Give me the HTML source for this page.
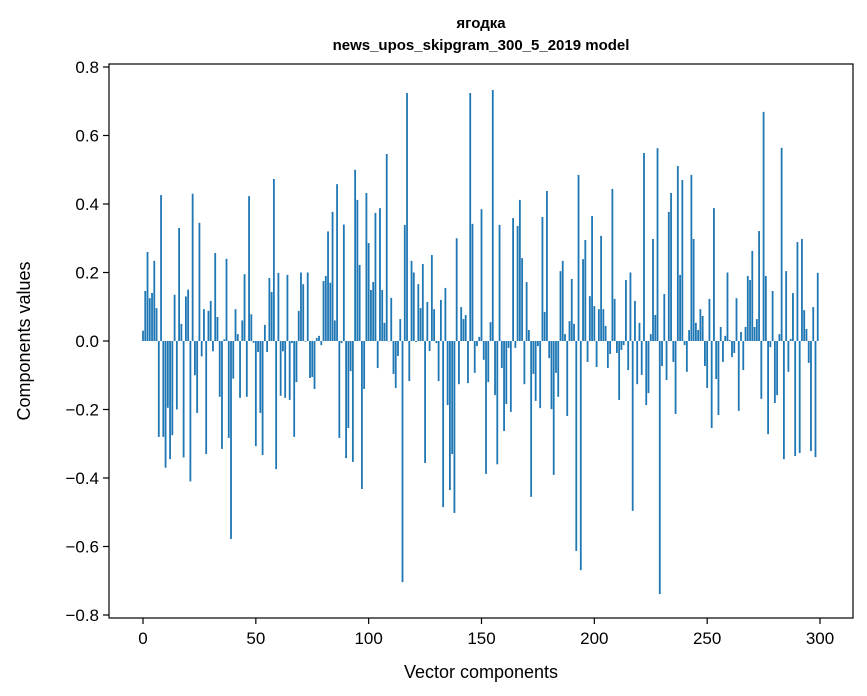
<!DOCTYPE html>
<html><head><meta charset="utf-8"><style>
body{margin:0;background:#fff;}
svg{display:block;font-family:"Liberation Sans","DejaVu Sans",sans-serif;}
</style></head><body>
<svg id="chart" width="867" height="696" viewBox="0 0 867 696" xmlns="http://www.w3.org/2000/svg">
<rect width="867" height="696" fill="#fff"/>
<text x="481" y="28" text-anchor="middle" font-size="15" font-weight="bold">ягодка</text>
<text x="481" y="50" text-anchor="middle" font-size="15" font-weight="bold">news_upos_skipgram_300_5_2019 model</text>
<g id="bars"></g>
<g id="axes"></g>
<text x="481" y="678" text-anchor="middle" font-size="18">Vector components</text>
<text transform="translate(30,341) rotate(-90)" text-anchor="middle" font-size="18">Components values</text>
</svg>
<script>
const componentValues = [
0.03,0.146,0.26,0.125,0.14,0.234,0.096,-0.28,0.426,-0.28,
-0.37,-0.195,-0.345,-0.275,0.135,-0.2,0.33,0.05,-0.34,0.13,
0.15,-0.41,0.43,-0.1,-0.21,0.345,-0.045,0.093,-0.33,0.088,
0.117,-0.03,0.257,0.07,-0.163,-0.315,0.005,0.24,-0.283,-0.578,
-0.11,0.093,0.02,-0.166,0.06,0.195,-0.163,0.423,0.078,-0.005,
-0.307,-0.032,-0.21,-0.333,0.047,-0.032,0.184,0.143,0.473,-0.374,
0.199,-0.16,-0.03,-0.166,0.193,-0.172,-0.006,-0.28,-0.12,0.088,
0.2,0.166,-0.002,0.2,-0.108,-0.105,-0.14,0.009,0.015,-0.012,
0.175,0.19,0.32,0.17,0.377,0.06,0.458,-0.283,-0.006,0.34,
-0.342,-0.254,-0.088,-0.353,0.5,0.412,0.222,-0.432,-0.14,0.432,
0.286,0.149,0.172,0.374,-0.079,0.388,0.149,0.053,0.546,0.0,
0.126,-0.096,-0.137,-0.044,0.064,-0.704,0.339,0.724,-0.117,0.234,
0.2,-0.003,0.166,0.096,0.225,-0.356,0.114,-0.029,0.251,0.093,
-0.006,-0.117,0.12,-0.485,0.155,-0.187,-0.435,-0.33,-0.502,0.3,
-0.126,0.099,0.064,0.076,-0.123,0.724,0.342,-0.093,-0.015,0.012,
0.385,-0.055,-0.388,-0.12,0.055,0.733,-0.158,-0.36,0.339,-0.079,
-0.263,-0.184,-0.02,-0.207,0.359,-0.02,0.336,0.412,0.242,-0.126,
0.172,0.032,-0.455,-0.096,-0.175,-0.015,-0.196,0.362,0.085,0.438,
-0.05,-0.199,-0.391,-0.093,-0.163,0.204,0.234,0.02,-0.219,0.058,
0.181,0.05,-0.613,0.485,-0.669,0.239,0.295,-0.061,0.131,0.365,
0.102,-0.076,0.093,0.307,0.093,0.044,-0.079,-0.038,0.444,0.123,
-0.035,-0.172,-0.026,-0.012,0.178,-0.085,0.2,-0.496,0.117,-0.126,
0.053,-0.099,0.549,-0.187,-0.152,0.02,0.298,0.076,0.563,-0.739,
-0.073,0.137,-0.114,0.377,0.432,-0.061,-0.213,0.511,0.193,0.47,
-0.012,-0.09,0.032,0.485,0.298,0.053,0.032,0.093,0.073,-0.073,
-0.137,0.123,-0.254,0.388,-0.111,-0.216,0.041,-0.061,0.015,0.2,
0.003,-0.047,-0.035,0.125,-0.204,0.026,-0.085,0.041,0.19,0.178,
0.263,0.041,0.064,0.321,-0.169,0.669,0.19,-0.272,-0.018,0.146,
-0.181,-0.158,0.02,0.564,-0.345,0.204,-0.09,0.006,0.14,-0.336,
0.289,-0.327,0.298,0.09,0.035,-0.064,-0.321,0.099,-0.339,0.199
];
const xTicks = [0,50,100,150,200,250,300];
const yTicks = [-0.8,-0.6,-0.4,-0.2,0.0,0.2,0.4,0.6,0.8];
const yTickLabels = ["\u22120.8","\u22120.6","\u22120.4","\u22120.2","0.0","0.2","0.4","0.6","0.8"];

const NS = "http://www.w3.org/2000/svg";
const plot = {left:109, right:853, top:64, bottom:618};
function xScale(i){ return 143 + (820-143) * i / 300; }
function yScale(v){ return 341 - v * 342.5; }
const barW = 0.8 * (xScale(1) - xScale(0));

const barsG = document.getElementById('bars');
componentValues.forEach((v, i) => {
  const r = document.createElementNS(NS, 'rect');
  const y0 = yScale(0), y1 = yScale(v);
  r.setAttribute('x', xScale(i) - barW/2);
  r.setAttribute('y', Math.min(y0, y1));
  r.setAttribute('width', barW);
  r.setAttribute('height', Math.max(Math.abs(y1 - y0), 0.3));
  r.setAttribute('fill', '#1f77b4');
  
  
  barsG.appendChild(r);
});

const axesG = document.getElementById('axes');
const frame = document.createElementNS(NS, 'rect');
frame.setAttribute('x', plot.left); frame.setAttribute('y', plot.top);
frame.setAttribute('width', plot.right - plot.left); frame.setAttribute('height', plot.bottom - plot.top);
frame.setAttribute('fill', 'none'); frame.setAttribute('stroke', '#000'); frame.setAttribute('stroke-width', '1.2');


axesG.appendChild(frame);

xTicks.forEach(t => {
  const x = xScale(t);
  const l = document.createElementNS(NS, 'line');
  l.setAttribute('x1', x); l.setAttribute('x2', x);
  l.setAttribute('y1', plot.bottom); l.setAttribute('y2', plot.bottom + 6);
  l.setAttribute('stroke', '#000'); l.setAttribute('stroke-width', '1.2');
  
  
  axesG.appendChild(l);
  const tx = document.createElementNS(NS, 'text');
  tx.setAttribute('x', x); tx.setAttribute('y', plot.bottom + 26);
  tx.setAttribute('text-anchor', 'middle'); tx.setAttribute('font-size', '17');
  tx.textContent = t;
  
  
  axesG.appendChild(tx);
});

yTicks.forEach((t, k) => {
  const y = yScale(t);
  const l = document.createElementNS(NS, 'line');
  l.setAttribute('x1', plot.left - 6); l.setAttribute('x2', plot.left);
  l.setAttribute('y1', y); l.setAttribute('y2', y);
  l.setAttribute('stroke', '#000'); l.setAttribute('stroke-width', '1.2');
  
  
  axesG.appendChild(l);
  const tx = document.createElementNS(NS, 'text');
  tx.setAttribute('x', plot.left - 10); tx.setAttribute('y', y + 6);
  tx.setAttribute('text-anchor', 'end'); tx.setAttribute('font-size', '17');
  tx.textContent = yTickLabels[k];
  
  
  axesG.appendChild(tx);
});
</script>
</body></html>
